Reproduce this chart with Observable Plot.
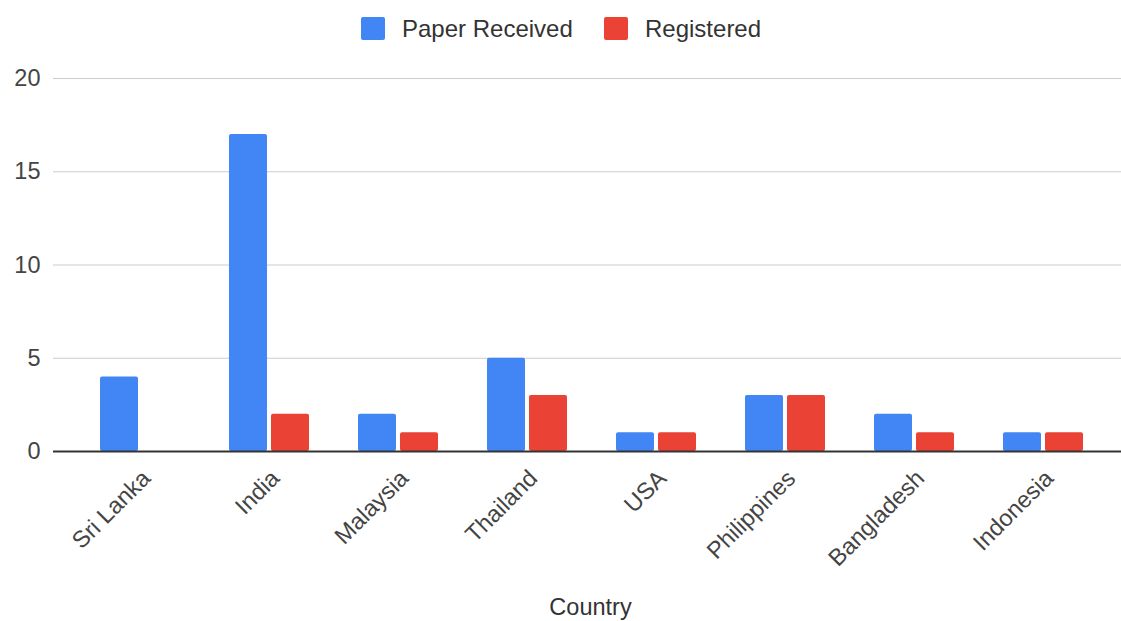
<!DOCTYPE html>
<html>
<head>
<meta charset="utf-8">
<script src="https://cdn.jsdelivr.net/npm/d3@7"></script>
<script src="https://cdn.jsdelivr.net/npm/@observablehq/plot@0.6"></script>
<style>
  html, body { margin: 0; padding: 0; background: #fff; }
  #wrap { width: 1121px; height: 621px; position: relative; overflow: hidden; font-family: "Liberation Sans", Arial, sans-serif; }
  #legend { height: 56px; position: relative; }
  .item { position: absolute; top: 17px; display: flex; align-items: center; height: 23px; font-size: 24px; color: #333; white-space: nowrap; }
  .sw { width: 24px; height: 23px; border-radius: 2px; margin-right: 17px; }
</style>
</head>
<body>
<div id="wrap">
  <div id="legend"></div>
  <div id="chart"></div>
</div>
<script>
const countries = ["Sri Lanka", "India", "Malaysia", "Thailand", "USA", "Philippines", "Bangladesh", "Indonesia"];
const paperReceived = [4, 17, 2, 5, 1, 3, 2, 1];
const registered = [0, 2, 1, 3, 1, 3, 1, 1];
const seriesNames = ["Paper Received", "Registered"];
const seriesColors = ["#4285F4", "#EA4335"];
const yTicks = [0, 5, 10, 15, 20];
const xTitle = "Country";

const rows = countries.map((c, i) => ({country: c, paper: paperReceived[i], reg: registered[i]}));

// legend
const legend = document.getElementById("legend");
const lefts = [361, 604];
seriesNames.forEach((name, i) => {
  const it = document.createElement("div");
  it.className = "item";
  it.style.left = lefts[i] + "px";
  const sw = document.createElement("span");
  sw.className = "sw";
  sw.style.background = seriesColors[i];
  it.appendChild(sw);
  it.appendChild(document.createTextNode(name));
  legend.appendChild(it);
});

const chart = Plot.plot({
  width: 1121,
  height: 565,
  marginLeft: 53,
  marginRight: 0,
  marginTop: 22,
  marginBottom: 170,
  style: {fontFamily: "'Liberation Sans', Arial, sans-serif", fontSize: "23.5px", color: "#444", background: "#fff"},
  x: {axis: null, domain: countries, range: [74.5, 1107.5], paddingInner: 0.38, paddingOuter: 0.19},
  y: {domain: [0, 20], ticks: yTicks, tickSize: 0, tickPadding: 13, label: null},
  marks: [
    Plot.ruleY(yTicks.filter(t => t !== 0), {stroke: "#ccc", strokeWidth: 1.2}),
    Plot.barY(rows, {x: "country", y: "paper", fill: seriesColors[0], insetRight: 42, rx: 2}),
    Plot.barY(rows.filter(d => d.reg > 0), {x: "country", y: "reg", fill: seriesColors[1], insetLeft: 42, rx: 2}),
    Plot.ruleY([0], {stroke: "#333", strokeWidth: 2}),
    Plot.text(countries, {x: d => d, frameAnchor: "bottom", rotate: -45, textAnchor: "end", lineAnchor: "middle", dx: 6, dy: 23, fill: "#444"}),
    Plot.text([xTitle], {frameAnchor: "bottom", dx: 3, dy: 163, fill: "#333", lineAnchor: "bottom"})
  ]
});
document.getElementById("chart").appendChild(chart);
</script>
</body>
</html>
